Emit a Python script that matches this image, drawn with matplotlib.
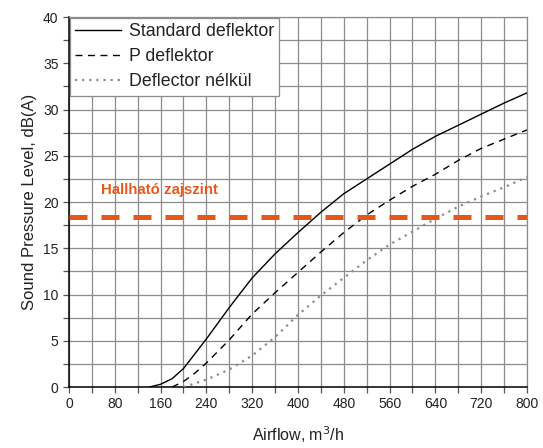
import matplotlib
matplotlib.use("Agg")
import matplotlib.pyplot as plt
import numpy as np
from matplotlib.ticker import MultipleLocator

plt.rcParams['font.family'] = ['Liberation Sans', 'DejaVu Sans']

# curve data (airflow m3/h -> dB(A))
std_x = [140, 160, 180, 200, 220, 240, 280, 320, 360, 400, 440, 480, 520, 560, 600, 640, 680, 720, 760, 800]
std_y = [0, 0.3, 0.9, 2.0, 3.6, 5.2, 8.6, 11.8, 14.4, 16.7, 18.9, 20.9, 22.5, 24.1, 25.7, 27.1, 28.3, 29.5, 30.7, 31.8]

p_x = [180, 200, 220, 240, 280, 320, 360, 400, 440, 480, 520, 560, 600, 640, 680, 720, 760, 800]
p_y = [0, 0.6, 1.5, 2.6, 5.1, 7.9, 10.2, 12.4, 14.6, 16.7, 18.6, 20.2, 21.7, 23.0, 24.5, 25.8, 26.8, 27.8]

nd_x = [200, 240, 280, 320, 360, 400, 440, 480, 520, 560, 600, 640, 680, 720, 760, 800]
nd_y = [0, 0.8, 1.9, 3.4, 5.4, 7.8, 9.9, 11.8, 13.7, 15.4, 16.8, 18.2, 19.5, 20.6, 21.6, 22.7]

labels = ["Standard deflektor", "P deflektor", "Deflector nélkül"]
noise_level = 18.4
noise_text = "Hallható zajszint"
ORANGE = "#E8561C"

fig = plt.figure(figsize=(5.43, 4.48), dpi=100)
ax = fig.add_axes([0.127, 0.136, 0.8435, 0.826])

ax.plot(std_x, std_y, color="black", lw=1.0, label=labels[0], zorder=3)
ax.plot(p_x, p_y, color="black", lw=1.0, linestyle=(0, (5, 4)), label=labels[1], zorder=3)
ax.plot(nd_x, nd_y, color="#8c8c8c", lw=1.6, linestyle=(0, (1, 2.2)), label=labels[2], zorder=3)

ax.plot([0, 800], [noise_level, noise_level], color=ORANGE, lw=3.6,
        linestyle=(0, (3.6, 2.8)), solid_capstyle="butt", dash_capstyle="butt", zorder=4)
ax.text(56, 21.3, noise_text, color=ORANGE, fontsize=10.8, fontweight="bold",
        ha="left", va="center", zorder=5)

ax.set_xlim(0, 800)
ax.set_ylim(0, 40)
ax.xaxis.set_major_locator(MultipleLocator(80))
ax.xaxis.set_minor_locator(MultipleLocator(40))
ax.yaxis.set_major_locator(MultipleLocator(5))
ax.yaxis.set_minor_locator(MultipleLocator(2.5))
ax.grid(which="both", color="#8c8c8c", lw=0.9)
ax.set_axisbelow(True)
ax.tick_params(which="both", direction="out", length=4, width=0.9, color="#555555",
               labelsize=10, labelcolor="#222222")

for s in ["top", "right"]:
    ax.spines[s].set_color("#8c8c8c")
    ax.spines[s].set_linewidth(0.9)
for s in ["left", "bottom"]:
    ax.spines[s].set_color("black")
    ax.spines[s].set_linewidth(1.1)

ax.set_xlabel("Airflow, m$^3$/h", fontsize=11.5, color="#222222", labelpad=9)
ax.set_ylabel("Sound Pressure Level, dB(A)", fontsize=12, color="#222222", labelpad=4)

leg = ax.legend(loc="upper left", fontsize=12.8, handlelength=2.6, handletextpad=0.4,
                labelspacing=0.45, borderaxespad=0.05, borderpad=0.3,
                fancybox=False, framealpha=1, edgecolor="#8c8c8c")
leg.get_frame().set_linewidth(0.9)
for t in leg.get_texts():
    t.set_color("#222222")

fig.savefig("out.png", dpi=100)
